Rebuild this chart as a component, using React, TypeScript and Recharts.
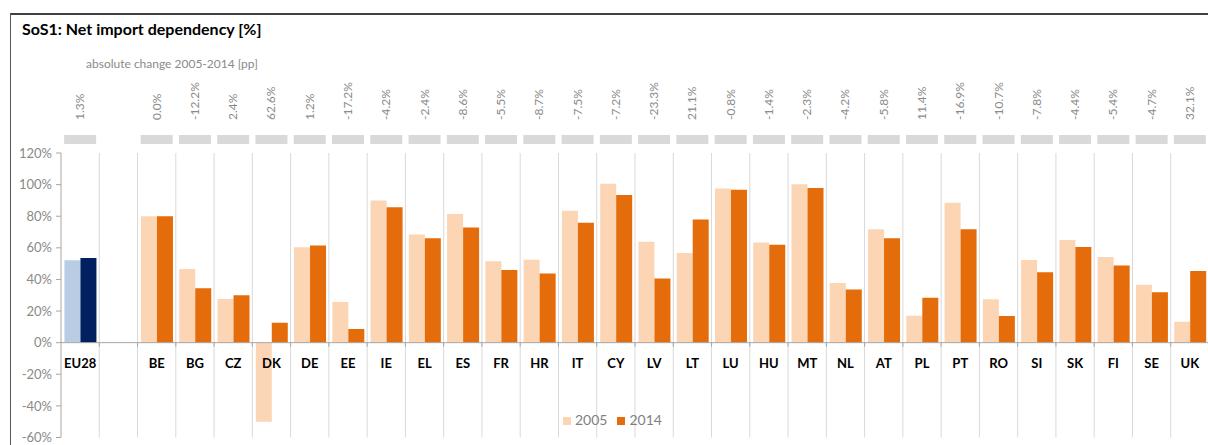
import { BarChart, Bar, Cell, XAxis, YAxis, CartesianGrid, ReferenceLine, Legend } from 'recharts'

const countries = ['EU28', ' ', 'BE', 'BG', 'CZ', 'DK', 'DE', 'EE', 'IE', 'EL', 'ES', 'FR', 'HR', 'IT', 'CY', 'LV', 'LT', 'LU', 'HU', 'MT', 'NL', 'AT', 'PL', 'PT', 'RO', 'SI', 'SK', 'FI', 'SE', 'UK']
const y2005 = [52.2, null, 80.0, 46.6, 27.6, -50.0, 60.3, 25.8, 89.9, 68.4, 81.4, 51.5, 52.5, 83.4, 100.6, 63.9, 56.8, 97.5, 63.4, 100.2, 37.8, 71.8, 17.0, 88.6, 27.5, 52.3, 65.0, 54.2, 36.6, 13.2]
const y2014 = [53.5, null, 80.0, 34.4, 30.0, 12.6, 61.5, 8.6, 85.7, 66.0, 72.8, 46.0, 43.8, 75.9, 93.4, 40.6, 77.9, 96.7, 62.0, 97.9, 33.6, 66.0, 28.4, 71.7, 16.8, 44.5, 60.6, 48.8, 31.9, 45.3]
const changes = ['1.3%', '', '0.0%', '-12.2%', '2.4%', '62.6%', '1.2%', '-17.2%', '-4.2%', '-2.4%', '-8.6%', '-5.5%', '-8.7%', '-7.5%', '-7.2%', '-23.3%', '21.1%', '-0.8%', '-1.4%', '-2.3%', '-4.2%', '-5.8%', '11.4%', '-16.9%', '-10.7%', '-7.8%', '-4.4%', '-5.4%', '-4.7%', '32.1%']
const yTicks = [-60, -40, -20, 0, 20, 40, 60, 80, 100, 120]

const data = countries.map((c, i) => ({ name: c, y2005: y2005[i], y2014: y2014[i], change: changes[i] }))

const FONT = 'Lato, "Open Sans", sans-serif'
const W = 1215
const H = 445
const LEFT = 61
const TOP = 153
const RIGHT = 1209
const PLOT_H = 284.5
const BAND = (RIGHT - LEFT) / countries.length
const ZERO_Y = TOP + PLOT_H * 120 / 180

const AXIS = '#a6a6a6'
const GRID = '#d9d9d9'
const LABEL = '#8a8a8a'

function BottomTick({ x, payload }: any) {
  return (
    <g>
      <line x1={x + BAND / 2} x2={x + BAND / 2} y1={ZERO_Y} y2={ZERO_Y + 4} stroke={AXIS} />
      <text x={x} y={ZERO_Y + 25} textAnchor="middle" fontSize={13} fontWeight={700} fill="#000" fontFamily={FONT}>
        {payload.value.trim()}
      </text>
    </g>
  )
}

function TopTick({ x, index }: any) {
  const label = changes[index]
  if (!label) return <g />
  return (
    <g>
      <rect x={x - 16} y={135} width={32} height={9} fill={GRID} />
      <text x={x + 4} y={120} transform={`rotate(-90 ${x + 4} 120)`} textAnchor="start" fontSize={12} fill={LABEL} fontFamily={FONT}>
        {label}
      </text>
    </g>
  )
}

export default function App() {
  return (
    <div style={{ position: 'absolute', left: 0, top: 0, width: 1208, height: 445, overflow: 'hidden', background: '#fff', fontFamily: FONT }}>
      <div style={{ position: 'absolute', left: 10, top: 13, width: 1220, height: 460, borderLeft: '1.5px solid #595959', borderTop: '2px solid #404040' }} />
      <div style={{ position: 'absolute', left: 22, top: 19, fontSize: 16, fontWeight: 700, color: '#000' }}>
        SoS1: Net import dependency [%]
      </div>
      <div style={{ position: 'absolute', left: 86, top: 56, fontSize: 12, color: LABEL }}>
        absolute change 2005-2014 [pp]
      </div>
      <div style={{ position: 'absolute', left: 0, top: 0 }}>
        <BarChart width={W} height={H} data={data} margin={{ top: TOP - 1, right: W - RIGHT, bottom: H - TOP - PLOT_H - 1, left: 0 }}
          barCategoryGap="9%" barGap={0}>
          <CartesianGrid horizontal={false} stroke={GRID}
            verticalCoordinatesGenerator={({ offset }: any) => countries.map((_, i) => offset.left + (i + 1) * offset.width / countries.length)} />
          <XAxis dataKey="name" height={1} axisLine={false} tickLine={false} tick={<BottomTick />} interval={0} />
          <XAxis xAxisId="top" dataKey="name" orientation="top" height={1} axisLine={false} tickLine={false} tick={<TopTick />} interval={0} />
          <YAxis width={LEFT} domain={[-60, 120]} ticks={yTicks} tickFormatter={(v: number) => `${v}%`}
            axisLine={{ stroke: AXIS }} tickLine={{ stroke: AXIS }} tickSize={5} tickMargin={4}
            tick={{ fontSize: 13, fill: LABEL, fontFamily: FONT }} interval={0} allowDataOverflow />
          <ReferenceLine y={0} stroke={AXIS} />
          <Legend layout="horizontal" verticalAlign="middle" align="center" iconType="square" iconSize={8}
            wrapperStyle={{ position: 'absolute', left: 563, top: 411, width: 'auto', fontSize: 14, fontFamily: FONT }}
            formatter={(v: string) => <span style={{ color: '#7f7f7f' }}>{v}</span>} />
          <Bar dataKey="y2005" name="2005" fill="#fcd5b5" isAnimationActive={false}>
            {data.map((_, i) => <Cell key={i} fill={i === 0 ? '#b8cce4' : '#fcd5b5'} />)}
          </Bar>
          <Bar dataKey="y2014" name="2014" fill="#e46c0a" isAnimationActive={false}>
            {data.map((_, i) => <Cell key={i} fill={i === 0 ? '#002060' : '#e46c0a'} />)}
          </Bar>
        </BarChart>
      </div>
    </div>
  )
}
